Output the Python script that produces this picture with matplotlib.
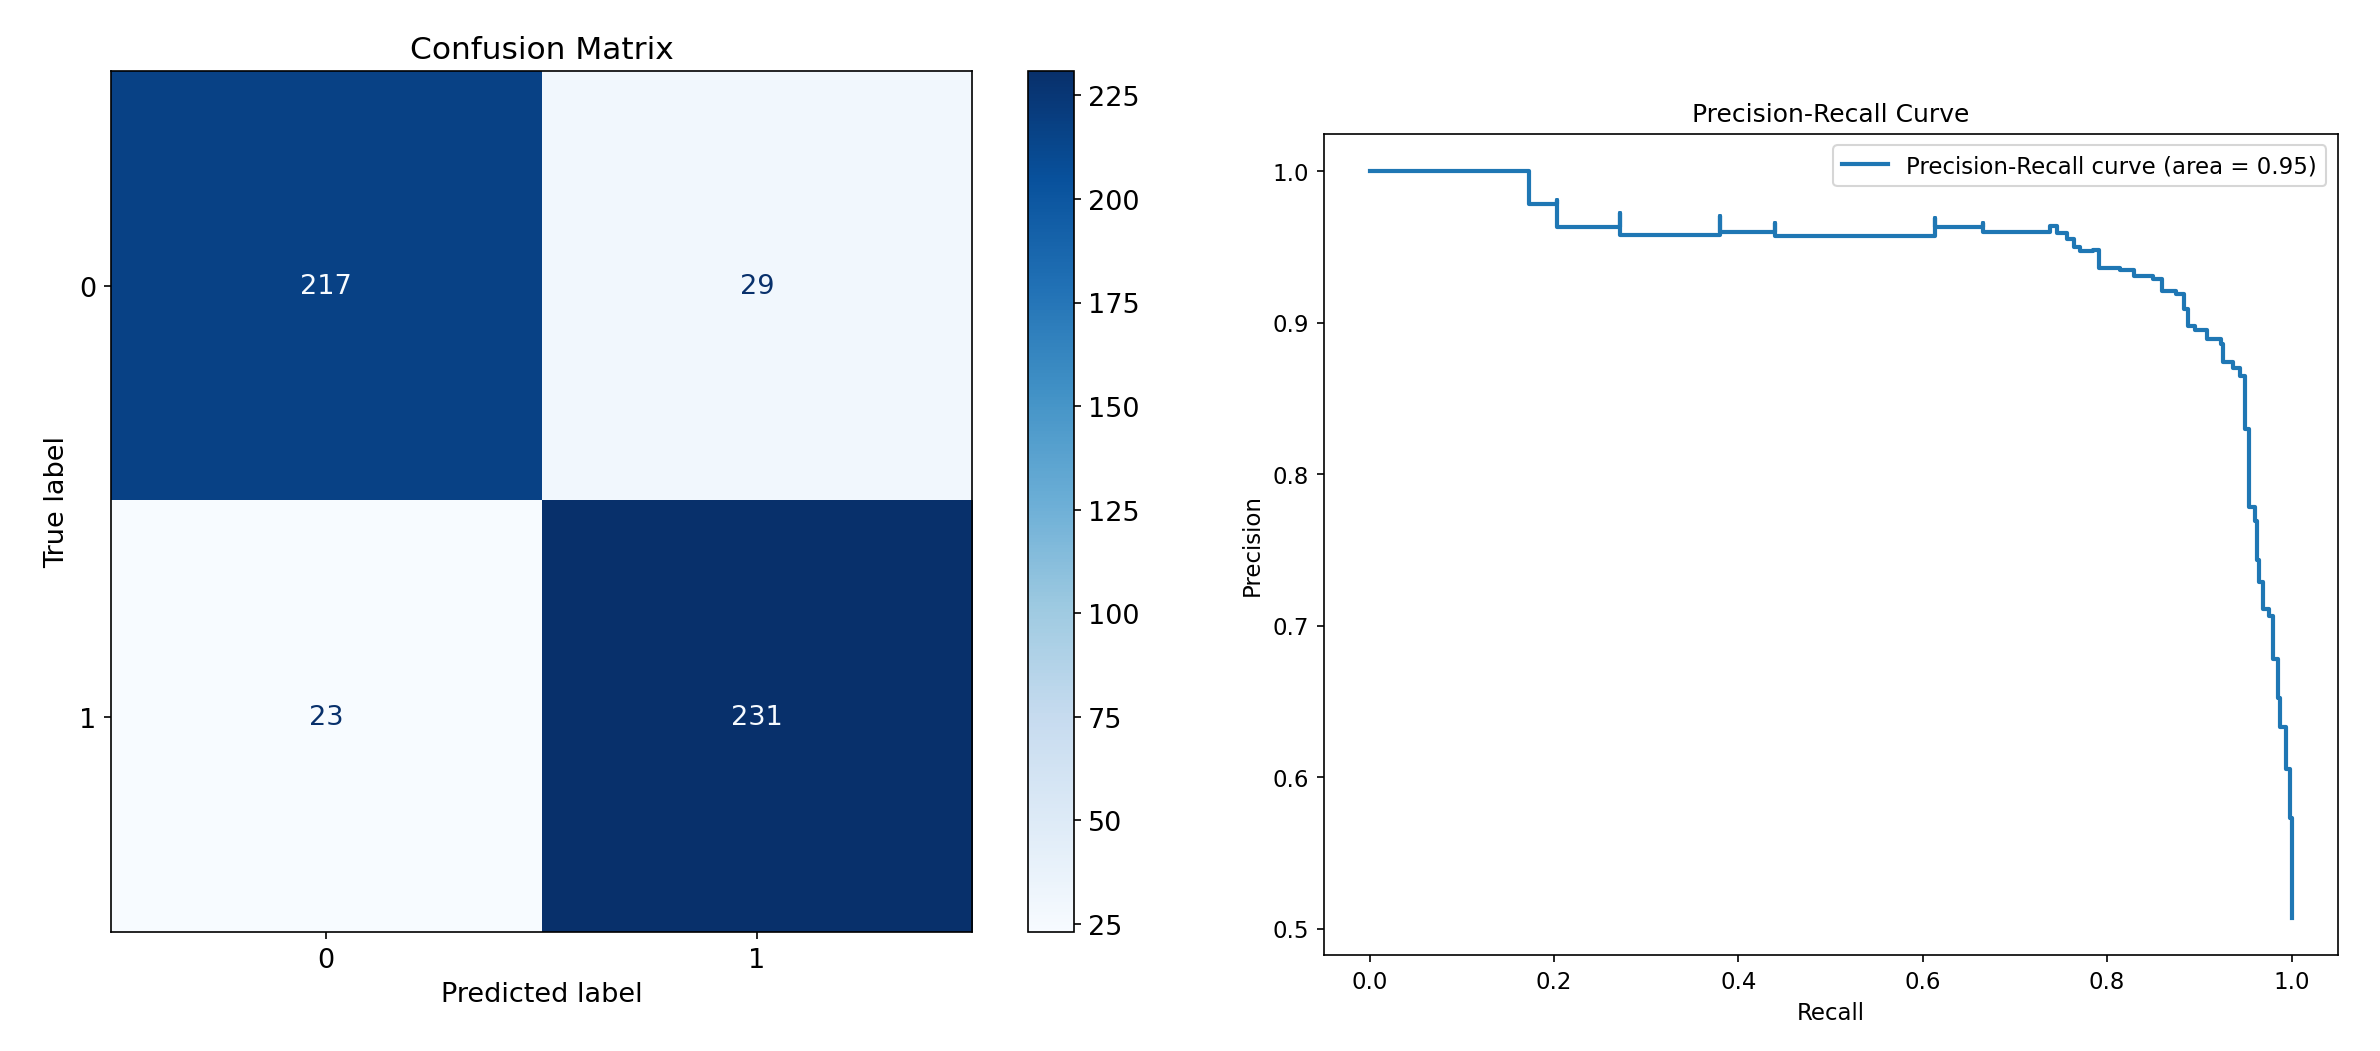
import matplotlib
matplotlib.use("Agg")
import matplotlib.pyplot as plt
import numpy as np

cm = np.array([[217, 29], [23, 231]])
class_labels = ["0", "1"]

recall = [0.0, 0.173, 0.173, 0.203, 0.203, 0.272, 0.272, 0.380, 0.380, 0.440, 0.440,
          0.613, 0.613, 0.665, 0.665, 0.738, 0.746, 0.756, 0.764, 0.771, 0.785, 0.791,
          0.814, 0.829, 0.850, 0.859, 0.875, 0.883, 0.888, 0.895, 0.908, 0.924, 0.926,
          0.937, 0.944, 0.949, 0.954, 0.960, 0.962, 0.965, 0.969, 0.976, 0.980, 0.985,
          0.988, 0.994, 0.998, 1.0, 1.0]
precision = [1.0, 1.0, 0.978, 0.981, 0.963, 0.972, 0.958, 0.970, 0.960, 0.966, 0.957,
             0.969, 0.963, 0.966, 0.960, 0.964, 0.959, 0.955, 0.950, 0.947, 0.948, 0.936,
             0.935, 0.931, 0.929, 0.921, 0.919, 0.909, 0.898, 0.895, 0.889, 0.886, 0.874,
             0.870, 0.865, 0.830, 0.778, 0.769, 0.743, 0.729, 0.711, 0.706, 0.678, 0.652,
             0.633, 0.605, 0.573, 0.573, 0.507]
area = 0.95

fig = plt.figure(figsize=(15.87, 7.013), dpi=150)
ax1 = fig.add_axes([0.046, 0.113, 0.363, 0.819])
cax = fig.add_axes([0.432, 0.113, 0.019, 0.819])
ax2 = fig.add_axes([0.556, 0.091, 0.426, 0.781])

im = ax1.imshow(cm, cmap="Blues", interpolation="nearest")
cmap = im.cmap
thresh = (cm.max() + cm.min()) / 2.0
for i in range(2):
    for j in range(2):
        col = cmap(0.0) if cm[i, j] > thresh else cmap(1.0)
        ax1.text(j, i, str(cm[i, j]), ha="center", va="center", color=col, fontsize=13)
ax1.set_xticks(range(2), class_labels, fontsize=13)
ax1.set_yticks(range(2), class_labels, fontsize=13)
ax1.set_xlabel("Predicted label", fontsize=13)
ax1.set_ylabel("True label", fontsize=13)
ax1.set_title("Confusion Matrix", fontsize=15)
cb = fig.colorbar(im, cax=cax)
cb.ax.tick_params(labelsize=13)

ax2.step(recall, precision, where="post", color="#1f77b4", lw=2,
         label=f"Precision-Recall curve (area = {area:.2f})")
ax2.set_xlabel("Recall", fontsize=11)
ax2.set_ylabel("Precision", fontsize=11)
ax2.set_title("Precision-Recall Curve", fontsize=12)
ax2.tick_params(labelsize=11)
ax2.legend(loc="upper right", fontsize=11)

fig.savefig("out.png", dpi=150)
